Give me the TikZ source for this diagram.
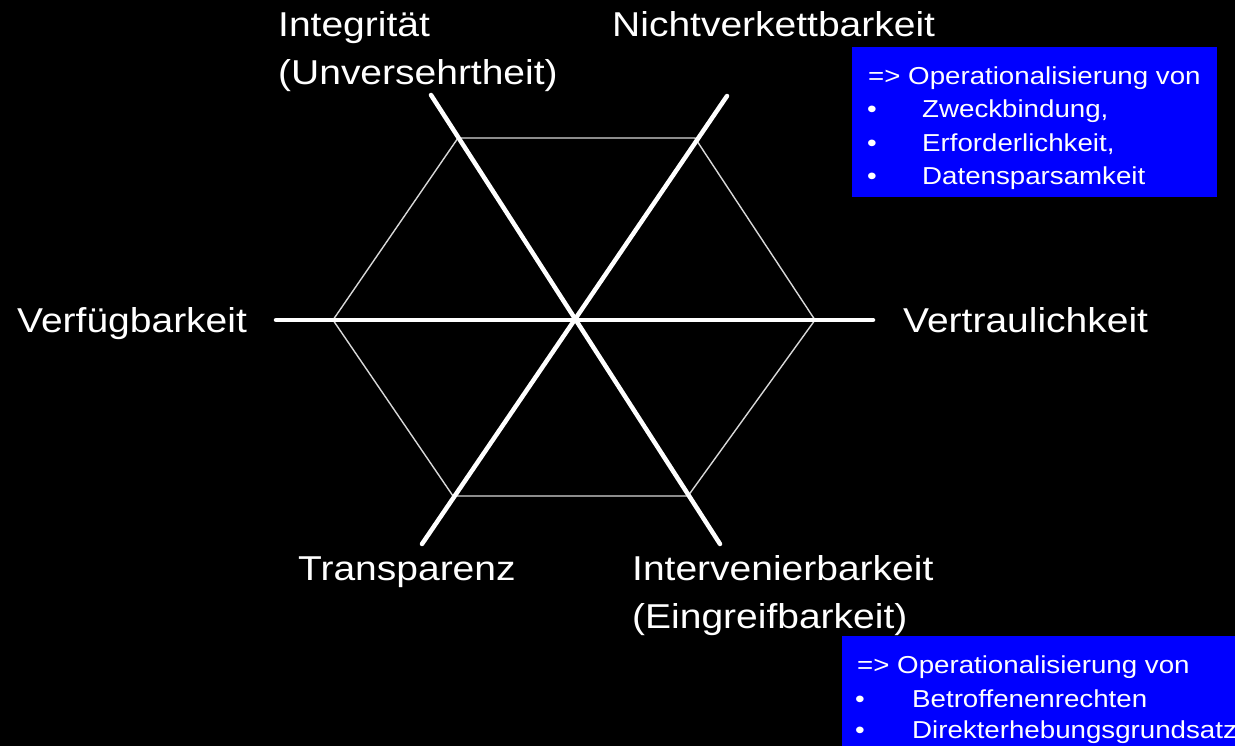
\documentclass[tikz,border=0pt]{standalone}
\usepackage{fontspec}
\setmainfont[FakeStretch=1.13]{Liberation Sans}
\definecolor{boxblue}{HTML}{0000FF}
\definecolor{hexgray}{HTML}{D8D8D8}
\begin{document}
\begin{tikzpicture}[x=1pt,y=-1pt,
  axis/.style={line width=4.5pt, white, line cap=round},
  hexline/.style={line width=1.4pt, draw=hexgray, line join=miter},
  lbl/.style={text=white, font=\fontsize{34.5}{41}\selectfont, inner sep=0pt, anchor=base west},
  boxtxt/.style={text=white, font=\fontsize{24.5}{29}\selectfont, inner sep=0pt, anchor=base west},
  bul/.style={text=white, font=\fontsize{24.5}{29}\selectfont, inner sep=0pt, anchor=base},
  infobox/.style={fill=boxblue, draw=none, inner sep=0pt, anchor=north west}]
\useasboundingbox (0,0) rectangle (1235,746);
\fill[black] (0,0) rectangle (1235,746);
% centre and axis ends
\coordinate (C) at (575,320);
\coordinate (W) at (276,320);
\coordinate (E) at (873,320);
\coordinate (NW) at (431,95);
\coordinate (SE) at (720,544);
\coordinate (NE) at (727,96);
\coordinate (SW) at (422,544);
% hexagon vertices
\coordinate (h1) at (333,320);
\coordinate (h2) at (458,138);
\coordinate (h3) at (695,138);
\coordinate (h4) at (815,320);
\coordinate (h5) at (688,496);
\coordinate (h6) at (453,496);
\draw[hexline] (h1) -- (h2) -- (h3) -- (h4) -- (h5) -- (h6) -- cycle;
\draw[axis] (W) -- (E);
\draw[axis] (NW) -- (SE);
\draw[axis] (NE) -- (SW);
% labels
\node[lbl] (integ1) at (278,37) {Integrität};
\node[lbl] (integ2) at (278,85) {(Unversehrtheit)};
\node[lbl] (nicht) at (612,37) {Nichtverkettbarkeit};
\node[lbl] (verf) at (17,332) {Verfügbarkeit};
\node[lbl] (vert) at (903,332) {Vertraulichkeit};
\node[lbl] (transp) at (298,580) {Transparenz};
\node[lbl] (interv1) at (632,580) {Intervenierbarkeit};
\node[lbl] (interv2) at (632,628) {(Eingreifbarkeit)};
% upper info box
\node[infobox, minimum width=365pt, minimum height=150pt] (box1) at (852,47) {};
\node[boxtxt] (b1l1) at (868,85) {=> Operationalisierung von};
\node[bul] (b1d2) at (872,118) {•};
\node[boxtxt] (b1l2) at (922,118) {Zweckbindung,};
\node[bul] (b1d3) at (872,152) {•};
\node[boxtxt] (b1l3) at (922,152) {Erforderlichkeit,};
\node[bul] (b1d4) at (872,185) {•};
\node[boxtxt] (b1l4) at (922,185) {Datensparsamkeit};
% lower info box
\node[infobox, minimum width=393pt, minimum height=110pt] (box2) at (842,636) {};
\node[boxtxt] (b2l1) at (857,673) {=> Operationalisierung von};
\node[bul] (b2d2) at (860,707) {•};
\node[boxtxt] (b2l2) at (912,707) {Betroffenenrechten};
\node[bul] (b2d3) at (860,738) {•};
\node[boxtxt] (b2l3) at (912,738) {Direkterhebungsgrundsatz};
\end{tikzpicture}
\end{document}
